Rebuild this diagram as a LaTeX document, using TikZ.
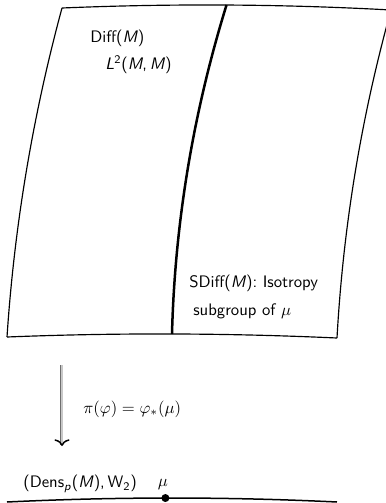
\documentclass[tikz,border=0pt]{standalone}
\usepackage{amsmath,amssymb}
\usepackage{xcolor}
\usepackage{tikz}
\usetikzlibrary{positioning,arrows.meta,calc}
\definecolor{fibregray}{RGB}{110,110,110}
\definecolor{fibrelight}{RGB}{200,200,200}
\tikzset{
  sheet/.style={draw=black, line width=0.7pt},
  orbit/.style={draw=black, line width=1.5pt},
  base/.style={draw=black, line width=0.9pt},
  lbl/.style={inner sep=0pt, anchor=west, font=\sffamily},
  proj/.style={draw=fibregray, double=fibrelight, double distance=0.8pt, line width=0.5pt,
    -{To[length=4pt, width=9pt, black, line width=0.9pt]}},
}
\begin{document}
\begin{tikzpicture}[x=0.6pt, y=-0.6pt]
    \clip (0,0) rectangle (386,503);
    % the sheet Diff(M)
    \coordinate (tl) at (62,8);
    \coordinate (tr) at (391,10);
    \coordinate (br) at (337,338);
    \coordinate (bl) at (7,337);
    \draw[sheet] (tl) .. controls (171.7,3.4) and (281.3,4) .. (tr)
      coordinate[pos=0.5] (tm);
    \draw[sheet] (bl) .. controls (117,332.6) and (227,333) .. (br)
      coordinate[pos=0.5] (bm);
    \draw[sheet] (tl) .. controls (32.8,115.9) and (14.4,225.5) .. (bl);
    \draw[sheet] (tr) .. controls (361.2,117.4) and (343.2,226.8) .. (br);
    \draw[orbit] (tm) .. controls (193.5,112) and (174.9,221.6) .. (bm);

    \node[lbl] (diff) at (90,38) {Diff(\textit{M})};
    \node[lbl] (ltwo) at (105,65) {\textit{L}$^{\textsf{2}}$(\textit{M},\,\textit{M})};
    \node[lbl] (sdiff) at (189,283) {SDiff(\textit{M}): Isotropy};
    \node[lbl] (subgr) at (193,311) {subgroup of $\mu$};

    % projection
    \coordinate (ptop) at (62,365);
    \coordinate (pbot) at (62,446);
    \draw[proj] (ptop) -- (pbot);
    \node[lbl] (push) at (83,409) {$\pi(\varphi) = \varphi_*(\mu)$};

    % the base Dens_p(M)
    \coordinate (dl) at (7,502);
    \coordinate (dr) at (337,502);
    \draw[base] (dl) .. controls (117,496.7) and (227,496.7) .. (dr)
      coordinate[pos=0.48] (pmu);
    \fill (pmu) circle[radius=4];
    \node[lbl] (dens) at (23,484) {(Dens$_{\textsf{\textit{p}}}$(\textit{M}),\,W$_{\textsf{2}}$)};
    \node[inner sep=0pt] (mu) at (163,485) {$\mu$};
  \end{tikzpicture}
\end{document}
